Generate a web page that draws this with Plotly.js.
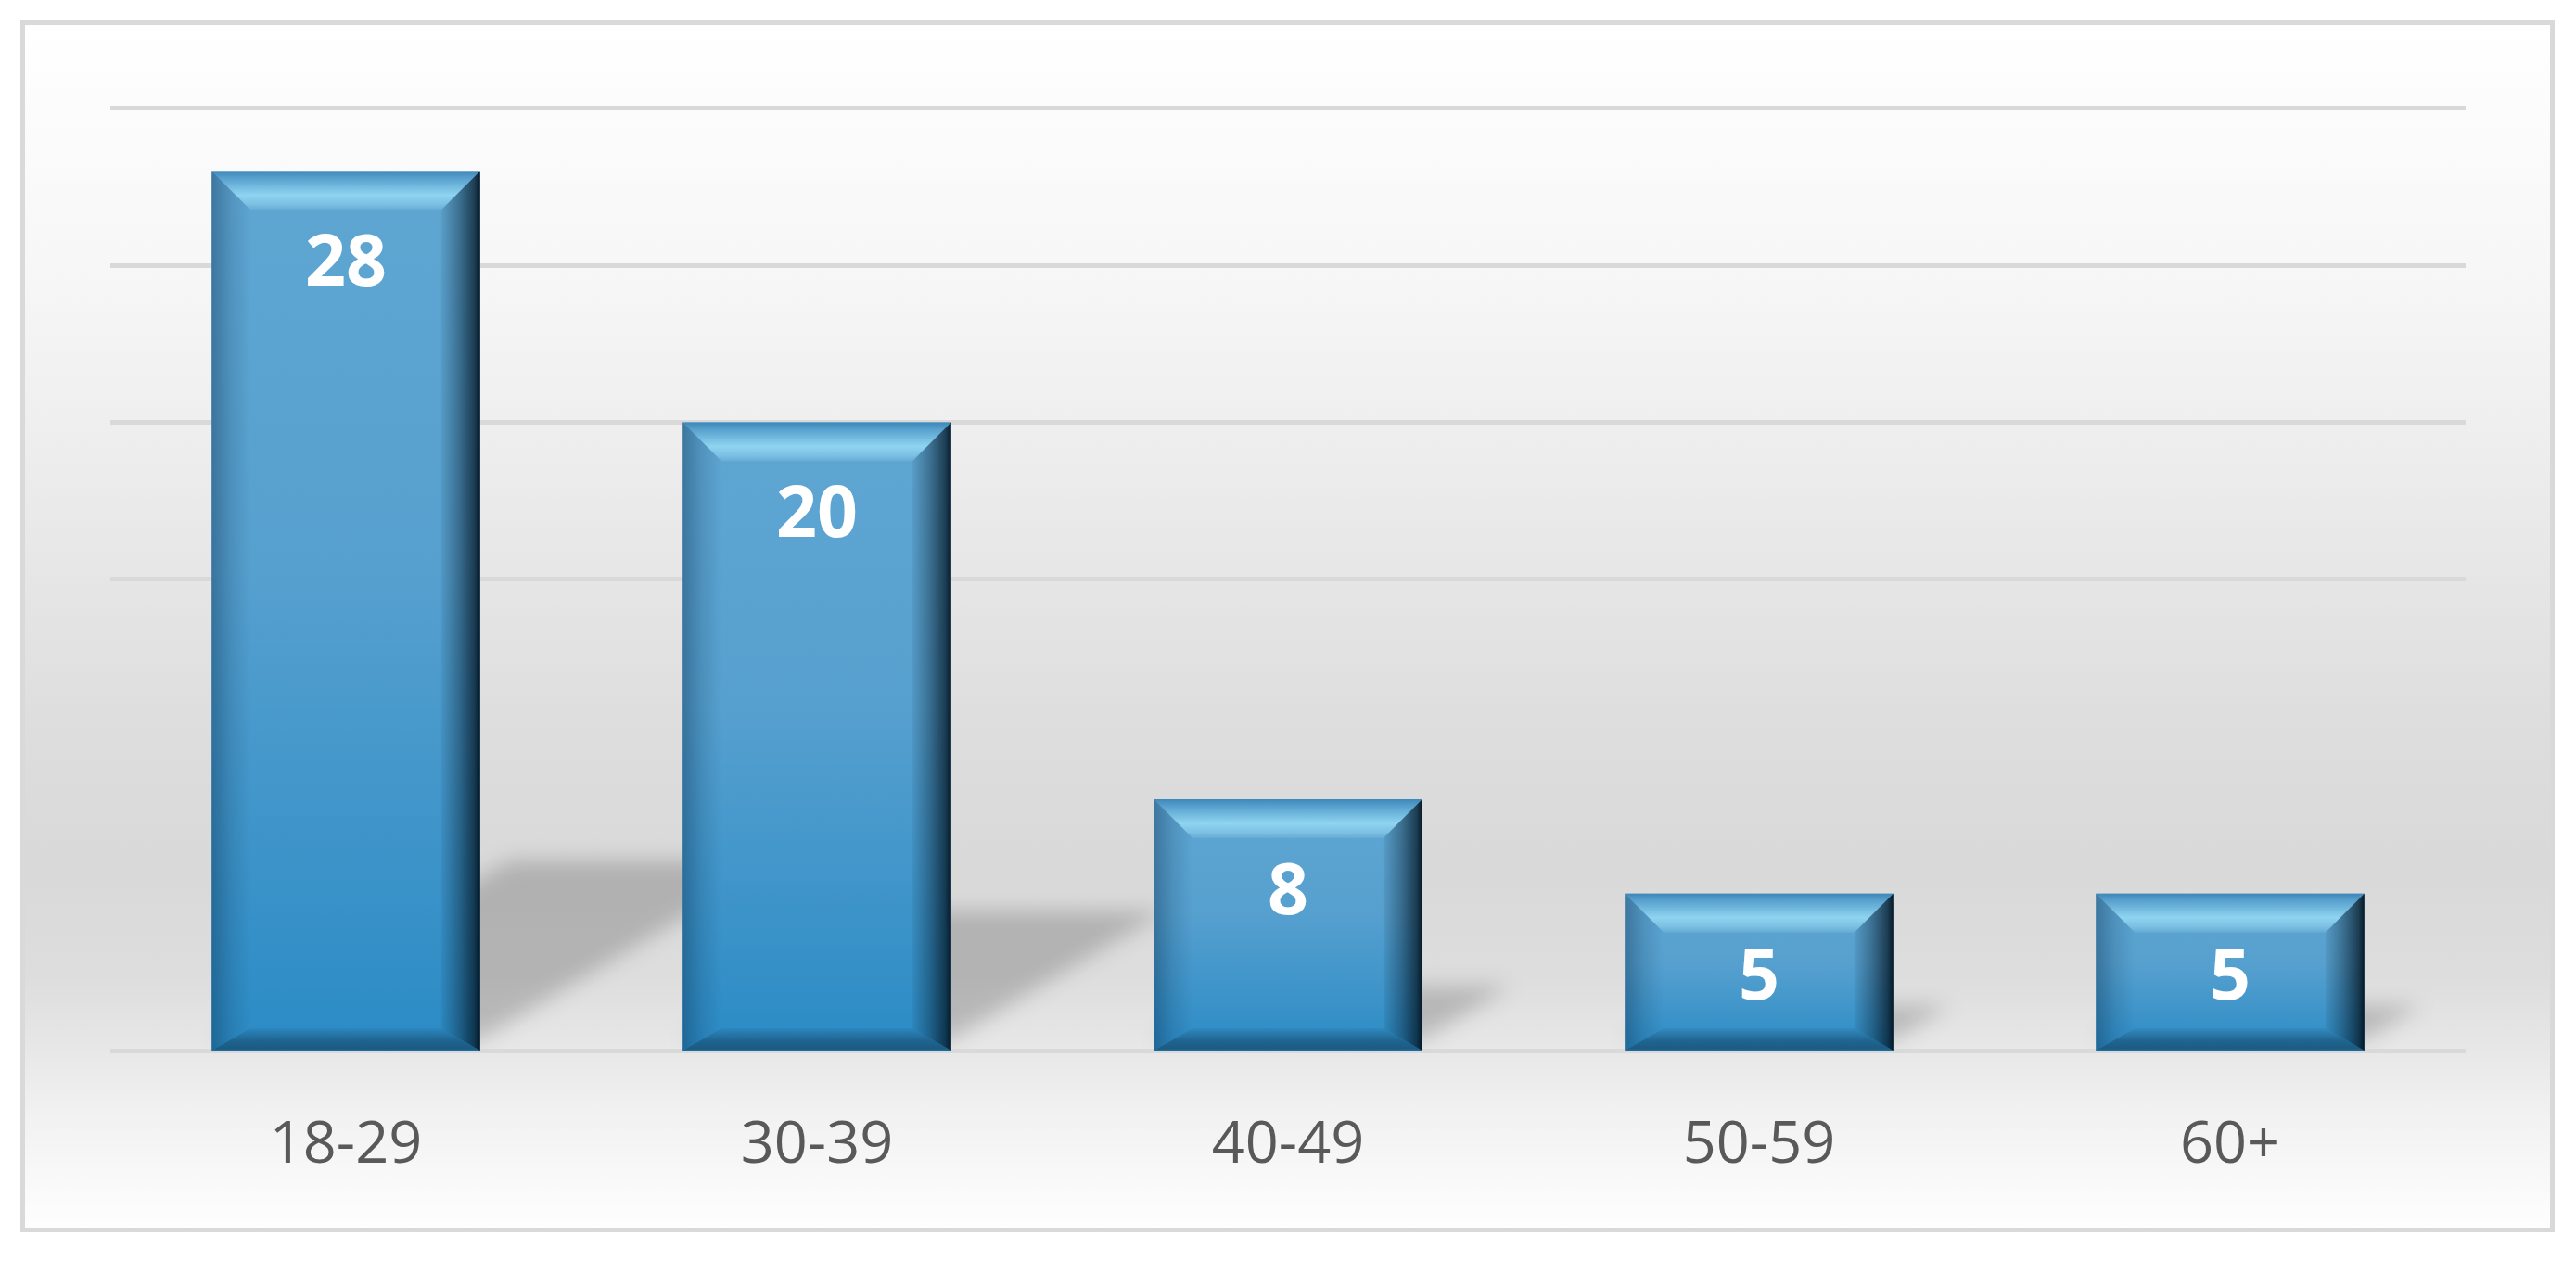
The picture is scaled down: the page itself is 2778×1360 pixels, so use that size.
<!DOCTYPE html>
<html><head><meta charset="utf-8">
<script src="https://cdn.plot.ly/plotly-3.0.1.min.js"></script>
<style>
html,body{margin:0;padding:0;background:#fff;width:2778px;height:1360px;overflow:hidden;}
#frame{position:absolute;left:22px;top:22px;width:2733px;height:1307px;box-sizing:border-box;border:5px solid #d9d9d9;
background:linear-gradient(to bottom,#ffffff 0%,#fcfcfc 7%,#f7f7f7 20%,#efefef 33%,#e6e6e6 46%,#dddddd 59%,#d9d9d9 70%,#dddddd 79%,#e7e7e7 85%,#f2f2f2 91%,#fefefe 100%);}
#chart{position:absolute;left:0;top:0;width:2778px;height:1360px;}
</style></head>
<body><div id="frame"></div><div id="chart"></div>
<script>
// ---- data ----
const categories = ['18-29', '30-39', '40-49', '50-59', '60+'];
const counts = [28, 20, 8, 5, 5];
const yTicks = [15, 20, 25, 30];

// ---- geometry helpers (pixel <-> data via the axis ranges) ----
const W = 2778, H = 1360;
const pxPerUnit = 1016 / 30;
const yRange = [0, 30.2];
const plotH = Math.round(pxPerUnit * yRange[1]);
const M = {l: 119, r: 119, b: 227};
M.t = H - M.b - plotH;
const plotW = W - M.l - M.r;
const xRange = [-0.5, categories.length - 0.5];
const xpp = (xRange[1] - xRange[0]) / plotW;
const ypp = (yRange[1] - yRange[0]) / plotH;
const bargap = 0.43, bw = 1 - bargap;

const shapes = [], roles = [];
function addPath(pts, role, layer, fallback) {
  shapes.push({
    type: 'path', xref: 'x', yref: 'y', layer: layer,
    path: 'M' + pts.map(p => p[0] + ',' + p[1]).join('L') + 'Z',
    line: {width: 0}, fillcolor: fallback
  });
  roles.push(role);
}
counts.forEach((v, i) => {
  const L = i - bw / 2, R = i + bw / 2, T = v, B = 0;
  const Hpx = v / ypp;
  const hsPx = 0.2 * Hpx + 15;
  const hs = hsPx * ypp, off = 12 * ypp, dx = (hsPx - 12) / 0.6 * xpp;
  addPath([[L, off], [R, off], [R + dx, hs], [L + dx, hs]], 'shadow', 'below', 'rgba(0,0,0,0.2)');
  const dt = 42 * ypp, db = 24 * ypp, dl = 42 * xpp, dr = 42 * xpp;
  addPath([[L, T], [R, T], [R - dr, T - dt], [L + dl, T - dt]], 'top', 'above', '#7cc0e3');
  addPath([[L, T], [L + dl, T - dt], [L + dl, B + db], [L, B]], 'left', 'above', 'rgba(10,40,70,0.15)');
  addPath([[R, T], [R, B], [R - dr, B + db], [R - dr, T - dt]], 'right', 'above', 'rgba(5,25,40,0.5)');
  addPath([[L, B], [R, B], [R - dr, B + db], [L + dl, B + db]], 'bottom', 'above', 'rgba(10,40,70,0.35)');
});

const data = [{
  type: 'bar',
  x: categories.map((c, i) => i),
  y: counts,
  marker: {color: '#4a9acb', line: {width: 0}},
  hoverinfo: 'skip'
}];

const layout = {
  width: W, height: H,
  margin: M,
  paper_bgcolor: 'rgba(0,0,0,0)',
  plot_bgcolor: 'rgba(0,0,0,0)',
  showlegend: false,
  bargap: bargap,
  xaxis: {
    type: 'linear', range: xRange,
    tickvals: categories.map((c, i) => i), ticktext: categories,
    showgrid: false, zeroline: false, showline: false, ticks: '',
    tickfont: {family: 'Open Sans', size: 63, color: '#595959'},
    ticklabelstandoff: 57, fixedrange: true
  },
  yaxis: {
    range: yRange, tickvals: yTicks, showticklabels: false,
    gridcolor: '#d9d9d9', gridwidth: 5,
    zeroline: true, zerolinecolor: '#d9d9d9', zerolinewidth: 5,
    showline: false, fixedrange: true
  },
  shapes: shapes,
  annotations: counts.map((v, i) => ({
    x: i, y: v, xref: 'x', yref: 'y', text: String(v), showarrow: false,
    xanchor: 'center', yanchor: 'middle',
    yshift: -Math.min(94, v / ypp / 2),
    font: {family: 'Open Sans', size: 77, color: '#ffffff', weight: 700}
  }))
};

Plotly.newPlot('chart', data, layout, {staticPlot: true, displayModeBar: false}).then(gd => {
  const NS = 'http://www.w3.org/2000/svg';
  const svg = gd.querySelector('svg.main-svg');
  let defs = svg.querySelector('defs');
  if (!defs) { defs = document.createElementNS(NS, 'defs'); svg.insertBefore(defs, svg.firstChild); }
  function grad(id, vertical, stops) {
    const g = document.createElementNS(NS, 'linearGradient');
    g.setAttribute('id', id);
    g.setAttribute('x1', '0'); g.setAttribute('y1', '0');
    g.setAttribute('x2', vertical ? '0' : '1'); g.setAttribute('y2', vertical ? '1' : '0');
    stops.forEach(s => {
      const st = document.createElementNS(NS, 'stop');
      st.setAttribute('offset', s[0]);
      st.setAttribute('stop-color', s[1]);
      st.setAttribute('stop-opacity', s[2] == null ? 1 : s[2]);
      g.appendChild(st);
    });
    defs.appendChild(g);
  }
  grad('gFace', true, [[0, '#5fa6d2'], [0.45, '#56a0cf'], [1, '#2b8bc5']]);
  grad('gTop', true, [[0, '#3f87b7'], [0.2, '#5aa3d0'], [0.62, '#8fd4f0'], [0.85, '#7cc0e3'], [1, '#66abd4']]);
  grad('gLeft', false, [[0, '#0b3050', 0.4], [0.5, '#0b3050', 0.15], [1, '#0b3050', 0]]);
  grad('gRight', false, [[0, '#02121e', 0.05], [0.45, '#02121e', 0.35], [0.85, '#02121e', 0.7], [1, '#02121e', 0.95]]);
  grad('gBottom', true, [[0, '#0a2a40', 0.05], [0.55, '#0a2a40', 0.4], [0.9, '#0a2a40', 0.5], [1, '#0a2a40', 0.3]]);
  const f = document.createElementNS(NS, 'filter');
  f.setAttribute('id', 'fBlur');
  f.setAttribute('x', '-50%'); f.setAttribute('y', '-50%');
  f.setAttribute('width', '200%'); f.setAttribute('height', '200%');
  const fb = document.createElementNS(NS, 'feGaussianBlur');
  fb.setAttribute('stdDeviation', '11');
  f.appendChild(fb);
  defs.appendChild(f);

  gd.querySelectorAll('.barlayer .point path').forEach(p => {
    p.style.fill = 'url(#gFace)'; p.style.fillOpacity = 1;
  });
  const map = {top: 'gTop', left: 'gLeft', right: 'gRight', bottom: 'gBottom'};
  gd.querySelectorAll('.shapelayer path[data-index]').forEach(p => {
    const r = roles[+p.getAttribute('data-index')];
    if (r === 'shadow') {
      p.style.fill = 'rgb(0,0,0)'; p.style.fillOpacity = 0.19;
      p.setAttribute('filter', 'url(#fBlur)');
    } else if (map[r]) {
      p.style.fill = 'url(#' + map[r] + ')'; p.style.fillOpacity = 1;
    }
  });
});
</script>
</body></html>
